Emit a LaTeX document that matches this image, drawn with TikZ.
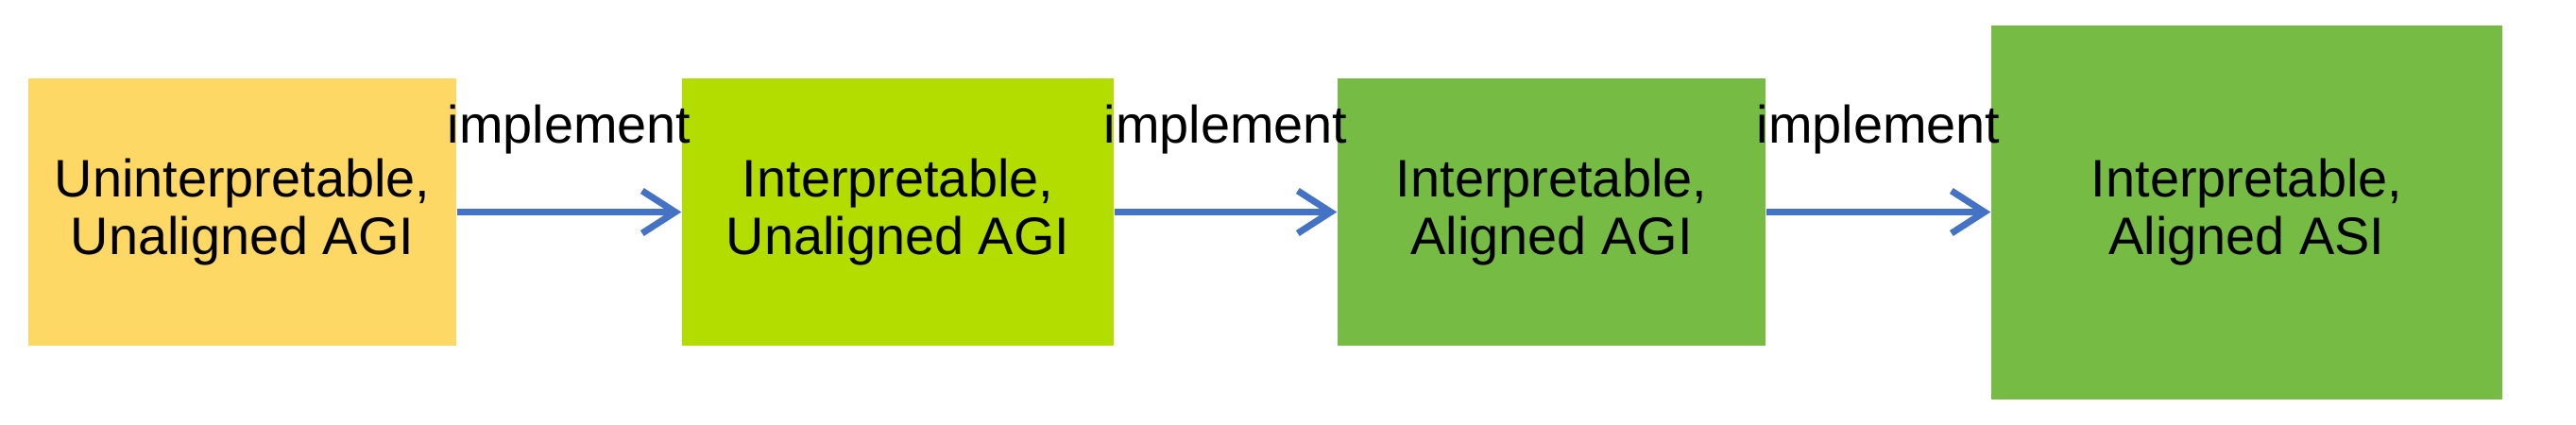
\documentclass[tikz,border=0pt]{standalone}
\usepackage{fontspec}
\setmainfont{Liberation Sans}
\usetikzlibrary{arrows.meta}
\definecolor{boxyellow}{RGB}{253,216,100}
\definecolor{boxlime}{RGB}{179,220,0}
\definecolor{boxgreen}{RGB}{118,187,67}
\definecolor{arrowblue}{RGB}{68,114,196}
\tikzset{>={Straight Barb[length=3.5mm,width=4.5mm]}}

\begin{document}
\begin{tikzpicture}[font=\fontsize{15.9}{17.3}\selectfont,
    box/.style={minimum width=4.53cm,minimum height=2.83cm,inner sep=0pt,align=center}]
    \useasboundingbox (0,0) rectangle (27.27,4.49);
    \node[box,fill=boxyellow] (ua) at (2.565,2.245) {Uninterpretable,\\Unaligned AGI};
    \node[box,fill=boxlime,minimum width=4.57cm] (iu) at (9.505,2.245) {Interpretable,\\Unaligned AGI};
    \node[box,fill=boxgreen] (ia) at (16.425,2.245) {Interpretable,\\Aligned AGI};
    \node[box,fill=boxgreen,minimum width=5.41cm,minimum height=3.96cm] (is) at (23.785,2.245) {Interpretable,\\Aligned ASI};
    \foreach \a/\b in {ua/iu,iu/ia,ia/is} {
        \draw[->,line width=2pt,draw=arrowblue] (\a) -- (\b)
        node[midway,anchor=base,yshift=7.3mm,inner sep=0pt] {implement};
      }
  \end{tikzpicture}
\end{document}
